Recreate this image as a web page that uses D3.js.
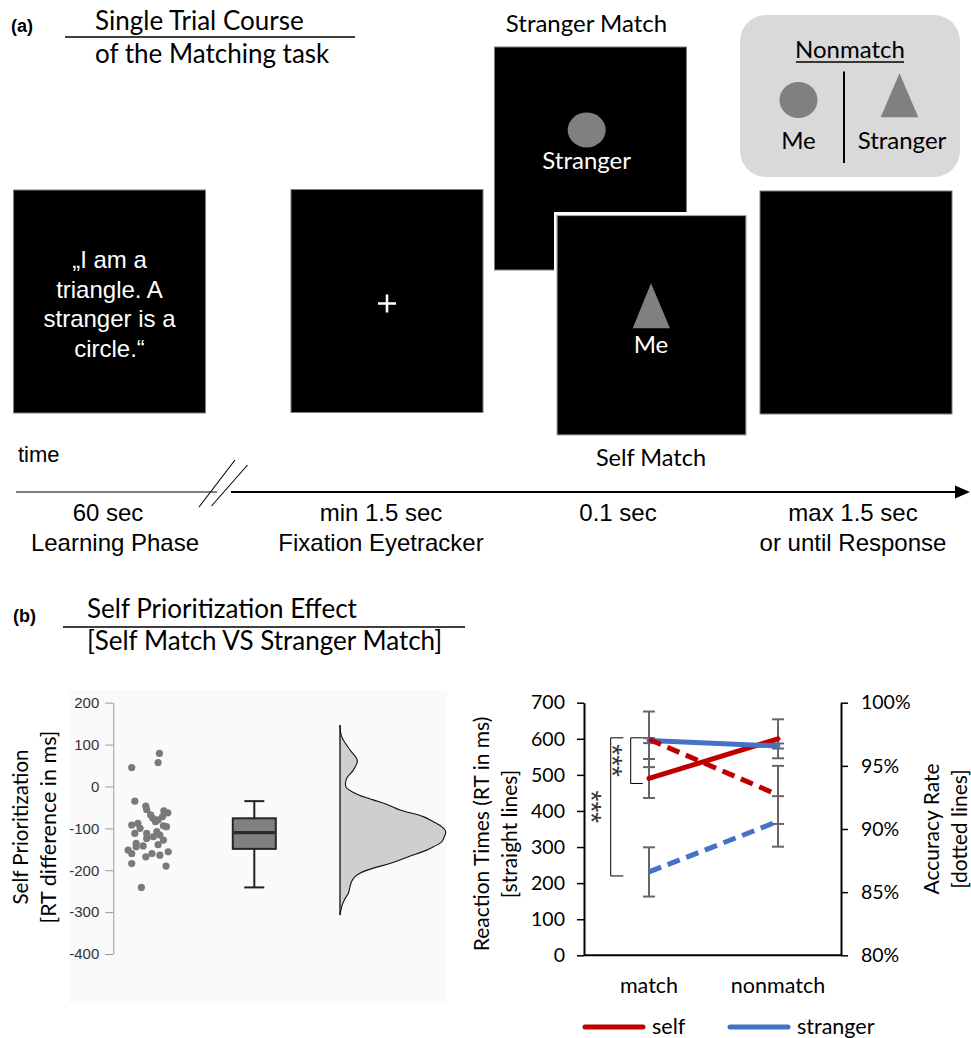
<!DOCTYPE html>
<html>
<head>
<meta charset="utf-8">
<script src="https://cdn.jsdelivr.net/npm/d3@7"></script>
<style>
  html, body { margin: 0; padding: 0; background: #fff; }
  svg { display: block; }
</style>
</head>
<body>
<svg id="fig" width="971" height="1038"></svg>
<script>
// ---------------- data ----------------
// (b) right: reaction times (ms) and accuracy (%) per condition
const conditions = ["match", "nonmatch"];
const rtSelf = [490, 600];
const rtSelfErr = [54, 54];
const rtStranger = [595, 580];
const rtStrangerErr = [7, 7];
const accSelf = [97.1, 92.7];
const accSelfErr = [2.2, 2.3];
const accStranger = [86.6, 90.6];
const accStrangerErr = [1.95, 2.0];
const rtTicks = [0, 100, 200, 300, 400, 500, 600, 700];
const accTicks = [80, 85, 90, 95, 100];

// (b) left: self prioritization per participant (RT difference in ms)
const spDiff = [45, 79, 57, -35, -47, -55, -58, -63, -68, -76, -72, -80, -84, -92, -88, -100,
  -96, -94, -112, -112, -108, -116, -120, -124, -128, -139, -136, -142, -152, -160, -144,
  -156, -160, -164, -168, -184, -190, -241];
// horizontal jitter of each participant dot (0..1 inside the strip)
const spJitter = [0.13, 0.76, 0.73, 0.20, 0.45, 0.47, 0.86, 0.95, 0.56, 0.61, 0.83, 0.73, 0.67,
  0.13, 0.27, 0.32, 0.92, 0.85, 0.47, 0.20, 0.70, 0.77, 0.62, 0.47, 0.85, 0.73, 0.23, 0.39,
  0.05, 0.13, 0.23, 0.96, 0.59, 0.77, 0.45, 0.13, 0.91, 0.35];
// box plot summary: lower whisker, Q1, median, Q3, upper whisker
const boxStats = [-241, -149, -110, -76, -35];
// half-violin density (relative height) along the RT difference axis
const densityAt = [147, 119, 87, 62, 39, 19, -1, -20, -32, -44, -56, -72, -84, -96, -108, -120,
  -132, -144, -152, -168, -184, -195, -207, -215, -227, -239, -255, -271, -287, -307];
const densityVal = [0, 0.016, 0.095, 0.164, 0.126, 0.063, 0.057, 0.173, 0.315, 0.457, 0.568,
  0.789, 0.883, 0.962, 1.0, 0.987, 0.962, 0.883, 0.82, 0.647, 0.473, 0.315, 0.189, 0.142,
  0.11, 0.095, 0.079, 0.041, 0.016, 0];
const diffTicks = [-400, -300, -200, -100, 0, 100, 200];

// (a) trial timeline labels
const phaseDuration = ["60 sec", "min 1.5 sec", "0.1 sec", "max 1.5 sec"];
const phaseName = ["Learning Phase", "Fixation Eyetracker", "", "or until Response"];
const learningText = ["\u201EI am a", "triangle. A", "stranger is a", "circle.\u201C"];

// ---------------- styles ----------------
const SANS = "Lato, 'Open Sans', sans-serif";
const ARIAL = "'Liberation Sans', Arial, sans-serif";
const RED = "#C00000";
const BLUE = "#4472C4";
const GREY_SHAPE = "#808080";

const svg = d3.select("#fig");

// =============== (a) Single trial course ===============
const a = svg.append("g");

a.append("text").attr("x", 11).attr("y", 32).attr("font-family", ARIAL)
  .attr("font-weight", "bold").attr("font-size", 18).text("(a)");
a.append("text").attr("x", 95).attr("y", 30).attr("font-family", SANS)
  .attr("font-size", 26).text("Single Trial Course");
a.append("line").attr("x1", 65).attr("x2", 355).attr("y1", 37).attr("y2", 37)
  .attr("stroke", "#000").attr("stroke-width", 1.6);
a.append("text").attr("x", 95).attr("y", 63).attr("font-family", SANS)
  .attr("font-size", 26).text("of the Matching task");

// screens
function screen(g, x, y, w, h) {
  return g.append("rect").attr("x", x).attr("y", y).attr("width", w).attr("height", h)
    .attr("fill", "#000").attr("stroke", "#7f7f7f").attr("stroke-width", 1);
}
screen(a, 13.5, 190, 192, 223);
screen(a, 291, 189.5, 192, 223);
screen(a, 760, 191, 192, 223);

// learning phase sentence
a.append("g").selectAll("text").data(learningText).join("text")
  .attr("x", 109.5).attr("y", (d, i) => 268.3 + i * 29.5)
  .attr("text-anchor", "middle").attr("font-family", ARIAL).attr("font-size", 24)
  .attr("fill", "#fff").text(d => d);

// fixation cross
a.append("path").attr("d", "M378,303.5H396M387,294.5V312.5")
  .attr("stroke", "#fff").attr("stroke-width", 2.6);

// stranger match screen (behind)
a.append("text").attr("x", 586.5).attr("y", 31.5).attr("text-anchor", "middle")
  .attr("font-family", SANS).attr("font-size", 24).text("Stranger Match");
screen(a, 494.5, 47, 192, 223);
a.append("ellipse").attr("cx", 586.7).attr("cy", 130).attr("rx", 19).attr("ry", 17.5)
  .attr("fill", GREY_SHAPE);
a.append("text").attr("x", 586.7).attr("y", 168.5).attr("text-anchor", "middle")
  .attr("font-family", SANS).attr("font-size", 24).attr("fill", "#fff").text("Stranger");

// self match screen (front)
a.append("rect").attr("x", 554).attr("y", 212).attr("width", 195).attr("height", 226)
  .attr("fill", "#fff");
a.append("rect").attr("x", 557).attr("y", 215.5).attr("width", 189).attr("height", 219.5)
  .attr("fill", "#000").attr("stroke", "#a6a6a6").attr("stroke-width", 1.2);
a.append("path").attr("d", "M651,283.3L670,328.3L632.7,328.3Z").attr("fill", GREY_SHAPE);
a.append("text").attr("x", 651).attr("y", 353).attr("text-anchor", "middle")
  .attr("font-family", SANS).attr("font-size", 24).attr("fill", "#fff").text("Me");
a.append("text").attr("x", 651).attr("y", 466).attr("text-anchor", "middle")
  .attr("font-family", SANS).attr("font-size", 23.5).text("Self Match");

// nonmatch legend box
a.append("rect").attr("x", 740).attr("y", 15).attr("width", 220).attr("height", 162)
  .attr("rx", 26).attr("fill", "#d9d9d9");
a.append("text").attr("x", 850).attr("y", 58).attr("text-anchor", "middle")
  .attr("font-family", SANS).attr("font-size", 24).text("Nonmatch");
a.append("line").attr("x1", 796).attr("x2", 904).attr("y1", 62).attr("y2", 62)
  .attr("stroke", "#000").attr("stroke-width", 1.3);
a.append("line").attr("x1", 844).attr("x2", 844).attr("y1", 71.5).attr("y2", 163)
  .attr("stroke", "#000").attr("stroke-width", 2);
a.append("ellipse").attr("cx", 798.5).attr("cy", 100).attr("rx", 19).attr("ry", 18)
  .attr("fill", GREY_SHAPE);
a.append("path").attr("d", "M899.5,73.3L918.3,117.3L880.7,117.3Z").attr("fill", GREY_SHAPE);
a.append("text").attr("x", 798.5).attr("y", 148.5).attr("text-anchor", "middle")
  .attr("font-family", SANS).attr("font-size", 24).text("Me");
a.append("text").attr("x", 902).attr("y", 148.5).attr("text-anchor", "middle")
  .attr("font-family", SANS).attr("font-size", 24).text("Stranger");

// time axis
a.append("text").attr("x", 18).attr("y", 462).attr("font-family", ARIAL)
  .attr("font-size", 22).text("time");
const arrowY = 492;
a.append("line").attr("x1", 16).attr("x2", 217).attr("y1", arrowY).attr("y2", arrowY)
  .attr("stroke", "#000").attr("stroke-width", 1.1);
a.append("line").attr("x1", 231).attr("x2", 958).attr("y1", arrowY).attr("y2", arrowY)
  .attr("stroke", "#000").attr("stroke-width", 2.2);
a.append("path").attr("d", `M970,${arrowY}L955,${arrowY - 6.5}L955,${arrowY + 6.5}Z`)
  .attr("fill", "#000");
a.append("path").attr("d", "M199,507L235,460M211.5,506L247.5,465")
  .attr("stroke", "#000").attr("stroke-width", 1.1);

const phaseX = d3.scaleOrdinal().domain(d3.range(4)).range([108, 381, 618, 853]);
a.append("g").selectAll("text").data(phaseDuration).join("text")
  .attr("x", (d, i) => phaseX(i)).attr("y", 521).attr("text-anchor", "middle")
  .attr("font-family", ARIAL).attr("font-size", 24).text(d => d);
a.append("g").selectAll("text").data(phaseName).join("text")
  .attr("x", (d, i) => phaseX(i) + (i === 0 ? 7 : 0)).attr("y", 551).attr("text-anchor", "middle")
  .attr("font-family", ARIAL).attr("font-size", 24).text(d => d);

// =============== (b) Self prioritization effect ===============
const b = svg.append("g");
b.append("text").attr("x", 13).attr("y", 622).attr("font-family", ARIAL)
  .attr("font-weight", "bold").attr("font-size", 18).text("(b)");
b.append("text").attr("x", 87).attr("y", 618).attr("font-family", SANS)
  .attr("font-size", 26).text("Self Prioritization Effect");
b.append("line").attr("x1", 63).attr("x2", 465).attr("y1", 627).attr("y2", 627)
  .attr("stroke", "#000").attr("stroke-width", 1.6);
b.append("text").attr("x", 87).attr("y", 650).attr("font-family", SANS)
  .attr("font-size", 26).text("[Self Match VS Stranger Match]");

// ---- left: raincloud of RT differences ----
const L = b.append("g");
L.append("rect").attr("x", 69).attr("y", 690).attr("width", 378).attr("height", 313)
  .attr("fill", "#fafafa");

const yDiff = d3.scaleLinear().domain([-400, 200]).range([954, 702.7]);
const axisL = L.append("g").attr("transform", "translate(113.3,0)")
  .call(d3.axisLeft(yDiff).tickValues(diffTicks).tickSize(8).tickSizeOuter(0)
    .tickPadding(6).tickFormat(d => String(d)));
axisL.select(".domain").attr("stroke", "#9a9a9a");
axisL.selectAll(".tick line").attr("stroke", "#9a9a9a");
axisL.selectAll(".tick text").attr("font-family", ARIAL).attr("font-size", 15)
  .attr("fill", "#333");

L.append("text").attr("transform", "translate(28,827) rotate(-90)")
  .attr("text-anchor", "middle").attr("font-family", SANS).attr("font-size", 20.5)
  .text("Self Prioritization");
L.append("text").attr("transform", "translate(56,827) rotate(-90)")
  .attr("text-anchor", "middle").attr("font-family", SANS).attr("font-size", 21.5)
  .text("[RT difference in ms]");

// jittered participant points
const xJit = d3.scaleLinear().domain([0, 1]).range([126, 170]);
L.append("g").selectAll("circle").data(spDiff).join("circle")
  .attr("cx", (d, i) => xJit(spJitter[i])).attr("cy", d => yDiff(d)).attr("r", 3.6)
  .attr("fill", "#7a7a7a");

// box plot
const boxX = 254.3, boxW = 43, capW = 20;
const [wLo, q1, med, q3, wHi] = boxStats;
L.append("line").attr("x1", boxX).attr("x2", boxX).attr("y1", yDiff(wHi)).attr("y2", yDiff(q3))
  .attr("stroke", "#222").attr("stroke-width", 2);
L.append("line").attr("x1", boxX).attr("x2", boxX).attr("y1", yDiff(q1)).attr("y2", yDiff(wLo))
  .attr("stroke", "#222").attr("stroke-width", 2);
L.selectAll(".cap").data([wLo, wHi]).join("line").attr("class", "cap")
  .attr("x1", boxX - capW / 2).attr("x2", boxX + capW / 2)
  .attr("y1", d => yDiff(d)).attr("y2", d => yDiff(d))
  .attr("stroke", "#222").attr("stroke-width", 2);
L.append("rect").attr("x", boxX - boxW / 2).attr("y", yDiff(q3)).attr("width", boxW)
  .attr("height", yDiff(q1) - yDiff(q3)).attr("fill", "#808080")
  .attr("stroke", "#262626").attr("stroke-width", 2);
L.append("line").attr("x1", boxX - boxW / 2 + 1).attr("x2", boxX + boxW / 2 - 1)
  .attr("y1", yDiff(med)).attr("y2", yDiff(med))
  .attr("stroke", "#2b2b2b").attr("stroke-width", 3.2);

// half violin
const violinX = 340;
const xDens = d3.scaleLinear().domain([0, 1]).range([violinX, 445.7]);
const dens = densityAt.map((v, i) => ({ v, d: densityVal[i] }));
L.append("path").datum(dens)
  .attr("d", d3.area().curve(d3.curveCatmullRom.alpha(0.5))
    .y(p => yDiff(p.v)).x0(violinX).x1(p => xDens(p.d)))
  .attr("fill", "#cfcfcf");
L.append("path").datum(dens)
  .attr("d", d3.line().curve(d3.curveCatmullRom.alpha(0.5))
    .y(p => yDiff(p.v)).x(p => xDens(p.d)))
  .attr("fill", "none").attr("stroke", "#111").attr("stroke-width", 1.1);
L.append("line").attr("x1", violinX).attr("x2", violinX)
  .attr("y1", yDiff(densityAt[0])).attr("y2", yDiff(densityAt[densityAt.length - 1]))
  .attr("stroke", "#111").attr("stroke-width", 1.3);

// ---- right: RT and accuracy by condition ----
const R = b.append("g");
const xCond = d3.scalePoint().domain(conditions).range([649, 778]);
const yRT = d3.scaleLinear().domain([0, 700]).range([955.3, 702.7]);
const yAcc = d3.scaleLinear().domain([80, 100]).range([955.3, 702.7]);
const plotL = 584, plotR = 841;

const axRT = R.append("g").attr("transform", `translate(${plotL},0)`)
  .call(d3.axisLeft(yRT).tickValues(rtTicks).tickSize(7).tickSizeOuter(0).tickPadding(12));
const axAcc = R.append("g").attr("transform", `translate(${plotR},0)`)
  .call(d3.axisRight(yAcc).tickValues(accTicks).tickSize(7).tickSizeOuter(0).tickPadding(13)
    .tickFormat(d => d + "%"));
[axRT, axAcc].forEach(ax => {
  ax.select(".domain").attr("stroke", "#000").attr("stroke-width", 2);
  ax.selectAll(".tick line").attr("stroke", "#000").attr("stroke-width", 1.5);
  ax.selectAll(".tick text").attr("font-family", SANS).attr("font-size", 19.5).attr("fill", "#000");
});
R.append("line").attr("x1", plotL).attr("x2", plotR).attr("y1", yRT(0)).attr("y2", yRT(0))
  .attr("stroke", "#000").attr("stroke-width", 2);

R.selectAll(".xlab").data(conditions).join("text").attr("class", "xlab")
  .attr("x", d => xCond(d)).attr("y", 993).attr("text-anchor", "middle")
  .attr("font-family", SANS).attr("font-size", 21.5).text(d => d);

R.append("text").attr("transform", "translate(489,834) rotate(-90)")
  .attr("text-anchor", "middle").attr("font-family", SANS).attr("font-size", 21)
  .text("Reaction Times (RT in ms)");
R.append("text").attr("transform", "translate(517,834) rotate(-90)")
  .attr("text-anchor", "middle").attr("font-family", SANS).attr("font-size", 21)
  .text("[straight lines]");
R.append("text").attr("transform", "translate(939,829) rotate(-90)")
  .attr("text-anchor", "middle").attr("font-family", SANS).attr("font-size", 21)
  .text("Accuracy Rate");
R.append("text").attr("transform", "translate(967,829) rotate(-90)")
  .attr("text-anchor", "middle").attr("font-family", SANS).attr("font-size", 21)
  .text("[dotted lines]");

// error bars
const series = [
  { vals: rtSelf, errs: rtSelfErr, y: yRT, color: RED, dash: null },
  { vals: rtStranger, errs: rtStrangerErr, y: yRT, color: BLUE, dash: null },
  { vals: accSelf, errs: accSelfErr, y: yAcc, color: RED, dash: "13,7" },
  { vals: accStranger, errs: accStrangerErr, y: yAcc, color: BLUE, dash: "13,7" }
];
const bars = [];
series.forEach(s => s.vals.forEach((v, i) => bars.push({
  x: xCond(conditions[i]), lo: s.y(v - s.errs[i]), hi: s.y(v + s.errs[i])
})));
const eb = R.append("g").attr("stroke", "#666").attr("stroke-width", 2);
eb.selectAll(".v").data(bars).join("line").attr("class", "v")
  .attr("x1", d => d.x).attr("x2", d => d.x).attr("y1", d => d.lo).attr("y2", d => d.hi);
eb.selectAll(".c1").data(bars).join("line").attr("class", "c1")
  .attr("x1", d => d.x - 6).attr("x2", d => d.x + 6).attr("y1", d => d.lo).attr("y2", d => d.lo);
eb.selectAll(".c2").data(bars).join("line").attr("class", "c2")
  .attr("x1", d => d.x - 6).attr("x2", d => d.x + 6).attr("y1", d => d.hi).attr("y2", d => d.hi);

// condition lines
series.forEach(s => {
  R.append("path").datum(s.vals)
    .attr("d", d3.line().x((v, i) => xCond(conditions[i])).y(v => s.y(v)))
    .attr("fill", "none").attr("stroke", s.color).attr("stroke-width", 5)
    .attr("stroke-linecap", s.dash ? "butt" : "round")
    .attr("stroke-dasharray", s.dash);
});

// significance brackets
const brInTop = yAcc(accSelf[0]) - 1.5, brInBot = yRT(rtSelf[0]) + 5;
const brOutTop = yAcc(accSelf[0]) - 1.5, brOutBot = yAcc(accStranger[0]) + 4;
R.append("path").attr("d", `M642.7,${brInTop}H630.7V${brInBot}H642.7`)
  .attr("fill", "none").attr("stroke", "#000").attr("stroke-width", 1);
R.append("path").attr("d", `M623.3,${brOutTop}H610.7V${brOutBot}H623.3`)
  .attr("fill", "none").attr("stroke", "#000").attr("stroke-width", 1);
R.append("text").attr("transform", `translate(603,${(brInTop + brInBot) / 2}) rotate(90)`)
  .attr("text-anchor", "middle").attr("font-family", ARIAL).attr("font-size", 28)
  .attr("fill", "#333").text("***");
R.append("text").attr("transform", `translate(582,${(brOutTop + brOutBot) / 2}) rotate(90)`)
  .attr("text-anchor", "middle").attr("font-family", ARIAL).attr("font-size", 28)
  .attr("fill", "#333").text("***");

// legend
const legend = [{ name: "self", color: RED, x: 583 }, { name: "stranger", color: BLUE, x: 728 }];
const lg = R.append("g");
lg.selectAll("line").data(legend).join("line")
  .attr("x1", d => d.x + 2).attr("x2", d => d.x + 60).attr("y1", 1027).attr("y2", 1027)
  .attr("stroke", d => d.color).attr("stroke-width", 5).attr("stroke-linecap", "round");
lg.selectAll("text").data(legend).join("text")
  .attr("x", d => d.x + 69).attr("y", 1034).attr("font-family", SANS).attr("font-size", 21.5)
  .text(d => d.name);
</script>
</body>
</html>
